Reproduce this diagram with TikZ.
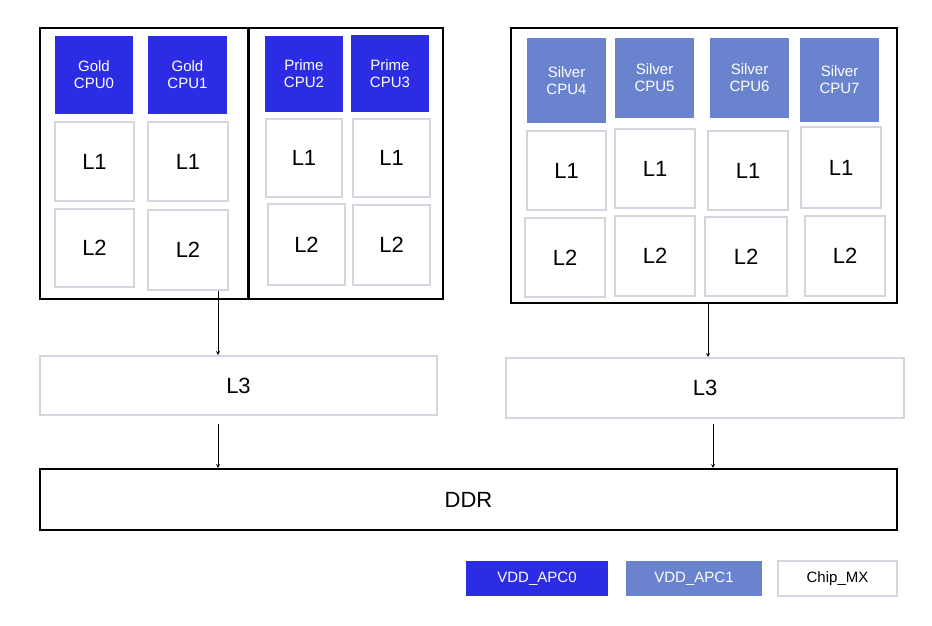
\documentclass[tikz,border=0pt]{standalone}
\usepackage{fontspec}
\setmainfont{Liberation Sans}
\begin{document}
\begin{tikzpicture}[x=1pt,y=-1pt,
  gbox/.style={draw=gray!35!blue!8!lightgray, line width=1.5pt, fill=white, inner sep=0pt, font=\fontsize{22}{24}\selectfont},
  cpuA/.style={fill=dgold, draw=none, text=white, align=center, font=\fontsize{15}{17}\selectfont},
  cpuB/.style={fill=dsilver, draw=none, text=white, align=center, font=\fontsize{15}{17}\selectfont},
  outer/.style={draw=black, line width=2pt},
  arr/.style={->, >=stealth, line width=0.8pt}]
\definecolor{dgold}{HTML}{2C2CE4}
\definecolor{dsilver}{HTML}{6A83CF}
\definecolor{lightgray}{HTML}{D2D6DE}
\useasboundingbox (0,0) rectangle (932,625);
\tikzset{gbox/.style={draw=lightgray, line width=2pt, fill=white, font=\fontsize{22}{24}\selectfont}}
\newcommand\bx[6]{\node[#1, minimum width={#4-#2}, minimum height={#5-#3}, inner sep=0pt] (#6) at ({(#2+#4)/2},{(#3+#5)/2})}
% left outer
\draw[outer] (40,28) rectangle (443,299);
\draw[line width=3pt] (248,28) -- (248,299);
\bx{cpuA}{55}{36}{133}{114}{c0} {Gold\\CPU0};
\bx{cpuA}{148}{36}{227}{114}{c1} {Gold\\CPU1};
\bx{cpuA}{265}{36}{343}{112}{c2} {Prime\\CPU2};
\bx{cpuA}{351}{35}{429}{112}{c3} {Prime\\CPU3};
\bx{gbox}{55}{122}{134}{201}{a1} {L1};
\bx{gbox}{148}{122}{228}{201}{b1} {L1};
\bx{gbox}{266}{119}{342}{197}{c1l} {L1};
\bx{gbox}{353}{119}{430}{197}{d1} {L1};
\bx{gbox}{55}{209}{134}{287}{a2} {L2};
\bx{gbox}{148}{210}{228}{290}{b2} {L2};
\bx{gbox}{268}{204}{345}{285}{c2l} {L2};
\bx{gbox}{353}{205}{430}{285}{d2} {L2};
% right outer
\draw[outer] (511,28) rectangle (897,303);
\bx{cpuB}{527}{38}{606}{123}{c4} {Silver\\CPU4};
\bx{cpuB}{615}{38}{694}{118}{c5} {Silver\\CPU5};
\bx{cpuB}{710}{38}{789}{118}{c6} {Silver\\CPU6};
\bx{cpuB}{800}{38}{879}{122}{c7} {Silver\\CPU7};
\bx{gbox}{527}{131}{606}{210}{e1} {L1};
\bx{gbox}{615}{129}{695}{208}{f1} {L1};
\bx{gbox}{708}{131}{788}{210}{g1} {L1};
\bx{gbox}{801}{127}{881}{208}{h1} {L1};
\bx{gbox}{525}{218}{605}{297}{e2} {L2};
\bx{gbox}{615}{216}{695}{296}{f2} {L2};
\bx{gbox}{705}{217}{787}{296}{g2} {L2};
\bx{gbox}{805}{216}{885}{296}{h2} {L2};
% L3 and DDR
\bx{gbox}{40}{356}{437}{415}{l3a} {L3};
\bx{gbox}{506}{358}{904}{418}{l3b} {L3};
\node[draw=black, line width=2pt, minimum width=857, minimum height=61, inner sep=0pt, font=\fontsize{22}{24}\selectfont] (ddr) at (468.5,499.5) {DDR};
\coordinate (s1) at (218,291);
\coordinate (s2) at (708,304);
\draw[arr] (s1) -- (l3a.north -| s1);
\draw[arr] (l3a.south -| s1) ++(0,8) -- (ddr.north -| s1);
\draw[arr] (s2) -- (l3b.north -| s2) ;
\coordinate (s3) at (713,424);
\draw[arr] (s3) -- (ddr.north -| s3);
% legend
\bx{cpuA}{466}{561}{608}{596}{k0} {VDD\_APC0};
\bx{cpuB}{626}{561}{762}{596}{k1} {VDD\_APC1};
\node[draw=lightgray, line width=2pt, minimum width=119, minimum height=35, inner sep=0pt, font=\fontsize{15}{17}\selectfont] (k2) at (837.5,578.5) {Chip\_MX};
\end{tikzpicture}
\end{document}
